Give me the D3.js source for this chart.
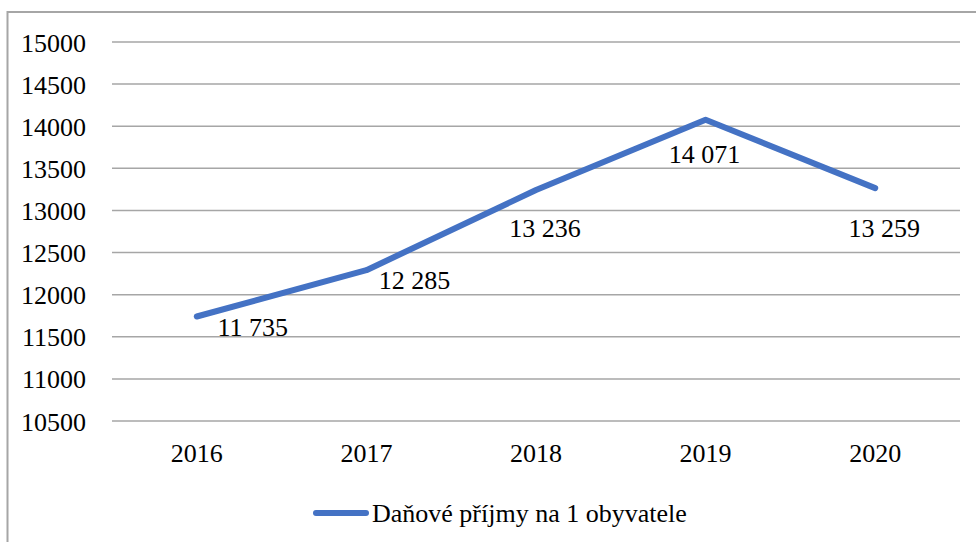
<!DOCTYPE html>
<html>
<head>
    <meta charset="utf-8"/>
    <style>
        body{
            margin: 0;
            background: #fff;
        }
        text{
            font-family: "Liberation Serif", "Times New Roman", serif;
            font-size: 26px;
            fill: #000;
        }
        .grid line{
            stroke: #a6a6a6;
            stroke-width: 1.5;
        }
        .domain{
            display: none;
        }
    </style>
</head>
<body>
<svg id="graph"></svg>

<script src="https://d3js.org/d3.v7.min.js"></script>
<script>
    // Data
    const years = ['2016', '2017', '2018', '2019', '2020'];
    const prijmy = [11735, 12285, 13236, 14071, 13259];
    const yTicks = [10500, 11000, 11500, 12000, 12500, 13000, 13500, 14000, 14500, 15000];
    const seriesName = 'Daňové příjmy na 1 obyvatele';

    // Label nudges (the original labels were placed by hand)
    const labelShift = [[56, 20], [48, 19], [9, 47], [-1, 43], [9, 49]];

    var width = 976, height = 542;
    var plotLeft = 112, plotRight = 960, plotTop = 41.5, plotBottom = 420.5;

    var svg = d3.select('#graph')
        .attr('width', width)
        .attr('height', height);

    // Outer chart frame
    svg.append('rect')
        .attr('x', 7.5).attr('y', 12)
        .attr('width', width + 20).attr('height', height + 20)
        .attr('fill', 'none')
        .attr('stroke', '#a6a6a6')
        .attr('stroke-width', 2);

    var x = d3.scaleBand()
        .domain(years)
        .range([plotLeft, plotRight]);
    var y = d3.scaleLinear()
        .domain([10500, 15000])
        .range([plotBottom, plotTop]);

    var cx = function(d){ return x(d) + x.bandwidth() / 2; };

    // Horizontal grid lines
    svg.append('g')
        .attr('class', 'grid')
        .attr('transform', 'translate(' + plotLeft + ',0)')
        .call(d3.axisRight(y).tickValues(yTicks).tickSize(plotRight - plotLeft).tickFormat(''));

    // Y tick labels
    svg.append('g')
        .selectAll('text')
        .data(yTicks)
        .enter().append('text')
        .attr('x', 86)
        .attr('y', function(d){ return y(d) + 10; })
        .attr('text-anchor', 'end')
        .text(function(d){ return d; });

    // X tick labels
    svg.append('g')
        .selectAll('text')
        .data(years)
        .enter().append('text')
        .attr('x', cx)
        .attr('y', 462)
        .attr('text-anchor', 'middle')
        .text(function(d){ return d; });

    // The line
    var pts = years.map(function(d, i){ return [cx(d), y(prijmy[i])]; });
    svg.append('path')
        .attr('d', d3.line()(pts))
        .attr('fill', 'none')
        .attr('stroke', '#4472c4')
        .attr('stroke-width', 6)
        .attr('stroke-linecap', 'round')
        .attr('stroke-linejoin', 'round');

    // Value labels with space as thousands separator
    var fmt = d3.formatLocale({decimal: ',', thousands: ' ', grouping: [3], currency: ['', ' Kč']}).format(',d');
    svg.append('g')
        .selectAll('text')
        .data(prijmy)
        .enter().append('text')
        .attr('x', function(d, i){ return pts[i][0] + labelShift[i][0]; })
        .attr('y', function(d, i){ return pts[i][1] + labelShift[i][1]; })
        .attr('text-anchor', 'middle')
        .text(function(d){ return fmt(d); });

    // Legend
    var legend = svg.append('g');
    legend.append('line')
        .attr('x1', 316).attr('x2', 366)
        .attr('y1', 513).attr('y2', 513)
        .attr('stroke', '#4472c4')
        .attr('stroke-width', 6)
        .attr('stroke-linecap', 'round');
    legend.append('text')
        .attr('x', 372)
        .attr('y', 522)
        .text(seriesName);
</script>
</body>
</html>
